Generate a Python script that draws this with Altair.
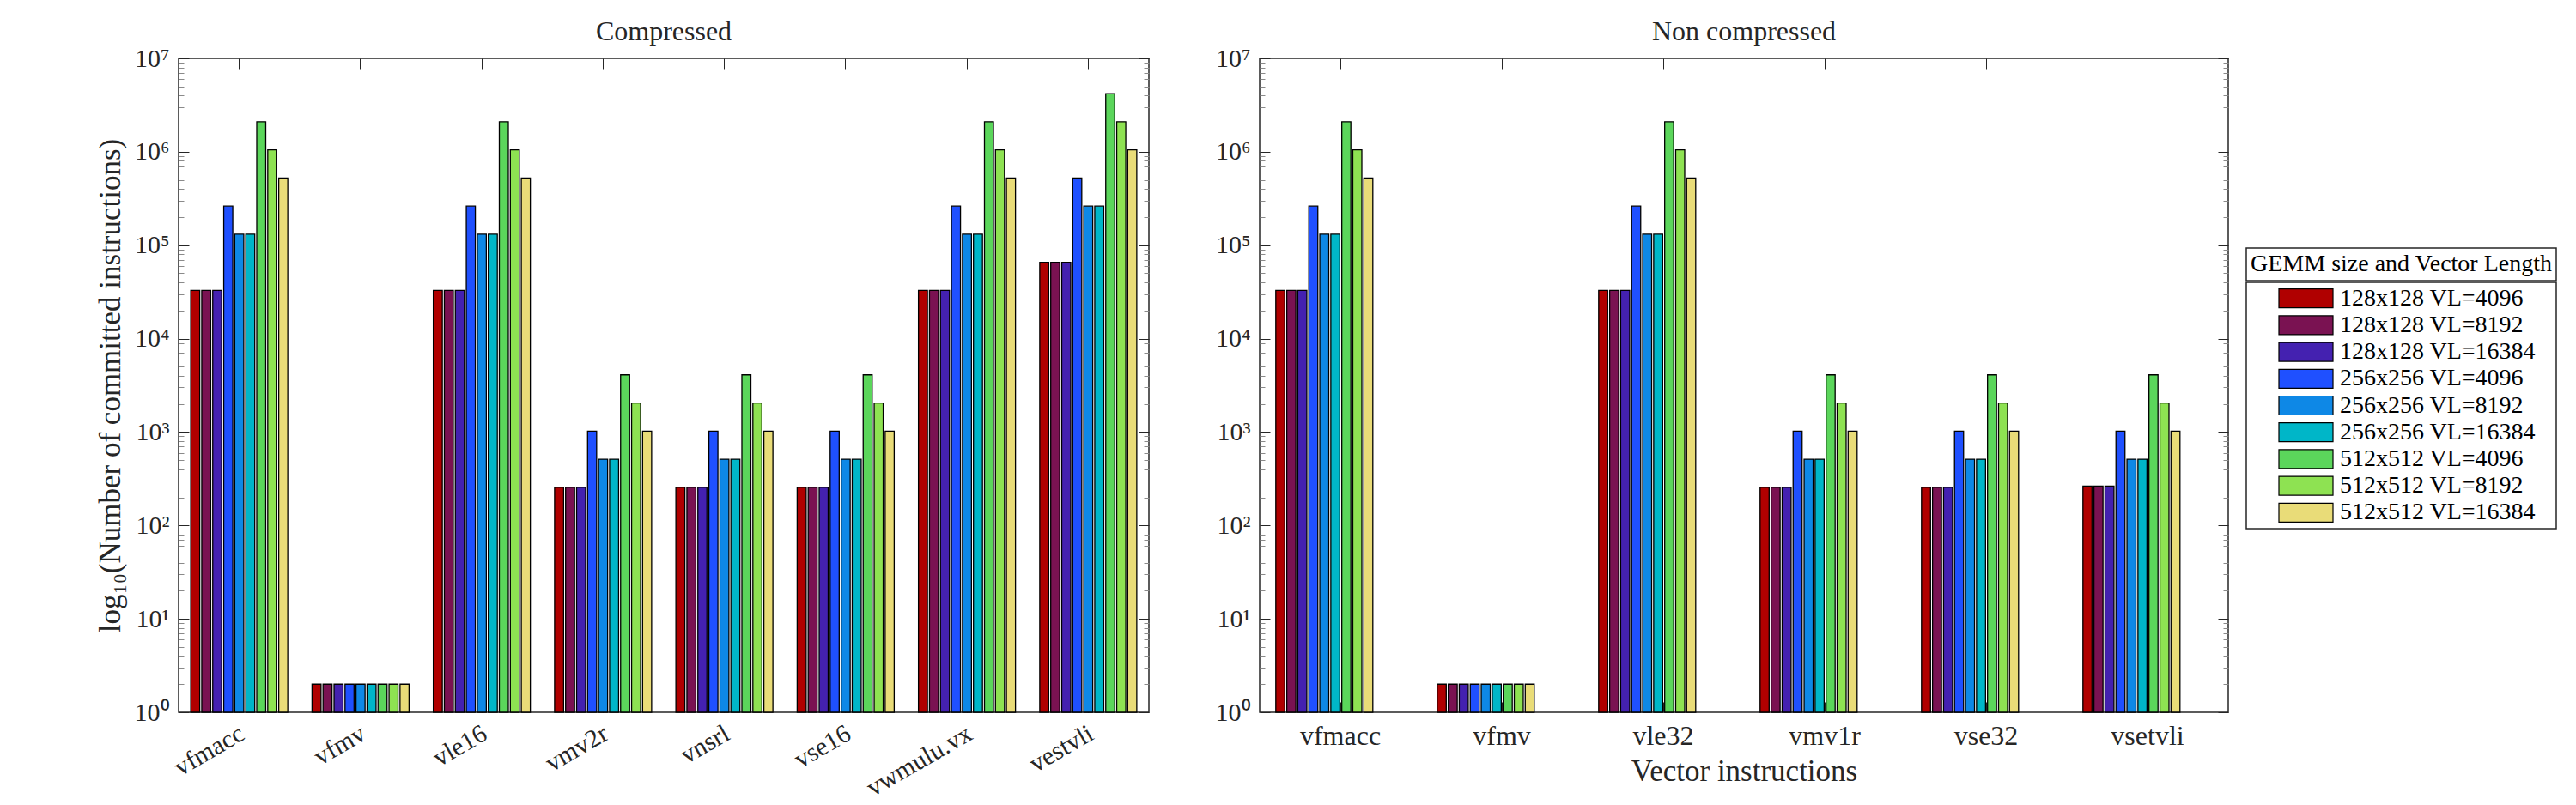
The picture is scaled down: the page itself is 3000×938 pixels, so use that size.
import altair as alt
import pandas as pd

# ---------------- data ----------------
series = ["128x128 VL=4096", "128x128 VL=8192", "128x128 VL=16384",
          "256x256 VL=4096", "256x256 VL=8192", "256x256 VL=16384",
          "512x512 VL=4096", "512x512 VL=8192", "512x512 VL=16384"]
colors = ["#b00000", "#7a1252", "#4421b0", "#1f50ff", "#0e88e6",
          "#00b6c8", "#5bd65b", "#8ee252", "#e9dc78"]

comp_instr = ["vfmacc", "vfmv", "vle16", "vmv2r", "vnsrl", "vse16", "vwmulu.vx", "vestvli"]
comp_vfmacc = [32768, 32768, 32768, 262144, 131072, 131072, 2097152, 1048576, 524288]
comp_vfmv = [2, 2, 2, 2, 2, 2, 2, 2, 2]
comp_vle16 = [32768, 32768, 32768, 262144, 131072, 131072, 2097152, 1048576, 524288]
comp_vmv2r = [256, 256, 256, 1024, 512, 512, 4096, 2048, 1024]
comp_vnsrl = [256, 256, 256, 1024, 512, 512, 4096, 2048, 1024]
comp_vse16 = [256, 256, 256, 1024, 512, 512, 4096, 2048, 1024]
comp_vwmulu = [32768, 32768, 32768, 262144, 131072, 131072, 2097152, 1048576, 524288]
comp_vestvli = [65536, 65536, 65536, 524288, 262144, 262144, 4194304, 2097152, 1048576]

nc_instr = ["vfmacc", "vfmv", "vle32", "vmv1r", "vse32", "vsetvli"]
nc_vfmacc = [32768, 32768, 32768, 262144, 131072, 131072, 2097152, 1048576, 524288]
nc_vfmv = [2, 2, 2, 2, 2, 2, 2, 2, 2]
nc_vle32 = [32768, 32768, 32768, 262144, 131072, 131072, 2097152, 1048576, 524288]
nc_vmv1r = [256, 256, 256, 1024, 512, 512, 4096, 2048, 1024]
nc_vse32 = [256, 256, 256, 1024, 512, 512, 4096, 2048, 1024]
nc_vsetvli = [264, 264, 264, 1024, 512, 512, 4096, 2048, 1024]

major_ticks = [1, 10, 100, 1000, 10000, 100000, 1000000, 10000000]
minor_ticks = [m * 10 ** k for k in range(7) for m in range(2, 10)]


def to_df(instr, rows):
    recs = []
    for name, vals in zip(instr, rows):
        for s, v in zip(series, vals):
            recs.append({"instr": name, "series": s, "value": v})
    return pd.DataFrame(recs)


comp_df = to_df(comp_instr, [comp_vfmacc, comp_vfmv, comp_vle16, comp_vmv2r,
                             comp_vnsrl, comp_vse16, comp_vwmulu, comp_vestvli])
nc_df = to_df(nc_instr, [nc_vfmacc, nc_vfmv, nc_vle32, nc_vmv1r, nc_vse32, nc_vsetvli])

FONT = "Liberation Serif"
TXT = "#262626"
MINOR = "#8a8a8a"
LABEL_EXPR = ("'10' + ['\u2070','\u00b9','\u00b2','\u00b3','\u2074','\u2075','\u2076','\u2077']"
              "[round(log(datum.value)/LN10)]")

color_scale = alt.Scale(domain=series, range=colors)


def panel(instr, df, title, angle, x_title, y_title, width, height):
    xscale = alt.Scale(domain=instr, paddingInner=0.2, paddingOuter=0.1)
    yscale = alt.Scale(type="log", domain=[1, 10000000], nice=False)
    xo = alt.XOffset("series:N", sort=series,
                     scale=alt.Scale(domain=series, paddingInner=0.18, paddingOuter=0))

    def layer(xaxis, yaxis, visible):
        enc = dict(
            x=alt.X("instr:N", sort=instr, scale=xscale, axis=xaxis),
            y=alt.Y("value:Q", scale=yscale, axis=yaxis),
            y2=alt.datum(1),
            xOffset=xo,
        )
        if visible:
            enc["color"] = alt.Color("series:N", scale=color_scale, legend=None)
            return alt.Chart(df).mark_bar(stroke="black", strokeWidth=1.3).encode(**enc)
        return alt.Chart(df).mark_bar(opacity=0).encode(**enc)

    common = dict(labelFont=FONT, titleFont=FONT, labelColor=TXT, titleColor=TXT,
                  titleFontWeight="normal", titleFontSize=35)
    if angle != 0:
        xlab = alt.Axis(orient="bottom", ticks=False, tickSize=0, domain=False, grid=False,
                        labelAngle=angle, labelAlign="right", labelBaseline="alphabetic",
                        labelPadding=30, labelOffset=8, title=None, labelFontSize=30, **common)
    else:
        xlab = alt.Axis(orient="bottom", ticks=False, tickSize=0, domain=False, grid=False,
                        labelAngle=0, labelAlign="center", labelBaseline="alphabetic",
                        labelPadding=37, title=x_title, titlePadding=8, labelFontSize=32,
                        **common)
    ylab = alt.Axis(orient="left", ticks=False, tickSize=0, domain=False, grid=False,
                    values=major_ticks, labelExpr=LABEL_EXPR, labelPadding=11,
                    title=y_title, titlePadding=10, labelFontSize=30, **common)

    def xt(orient):
        return alt.Axis(orient=orient, offset=-12, tickSize=12, labels=False, domain=False,
                        grid=False, title=None, tickColor=TXT, tickWidth=1)

    def yt(orient, vals, size, col):
        return alt.Axis(orient=orient, offset=-size, tickSize=size, values=vals, labels=False,
                        domain=False, grid=False, title=None, tickColor=col, tickWidth=1)

    layers = [
        layer(xlab, ylab, True),
        layer(xt("bottom"), yt("left", major_ticks, 12, TXT), False),
        layer(xt("top"), yt("right", major_ticks, 12, TXT), False),
        layer(None, yt("left", minor_ticks, 6, MINOR), False),
        layer(None, yt("right", minor_ticks, 6, MINOR), False),
    ]
    return alt.layer(*layers).resolve_axis(x="independent", y="independent").properties(
        width=width, height=height,
        view=alt.ViewBackground(stroke=TXT, strokeWidth=1.5),
        title=alt.Title(title, font=FONT, fontSize=32, fontWeight="normal", color=TXT,
                        offset=-26, baseline="alphabetic"),
    )


left = panel(comp_instr, comp_df, "Compressed", -30, None,
             "log\u2081\u2080(Number of committed instructions)", 1130, 762)
right = panel(nc_instr, nc_df, "Non compressed", 0, "Vector instructions", None, 1128, 762)

# ---------------- legend panel ----------------
leg_df = pd.DataFrame({"series": series})
leg_title = ["GEMM size and Vector Length"]
LEG_W = 361

spacer = alt.Chart(leg_df).mark_point(opacity=0).encode(
    x=alt.value(0), y=alt.value(0)
).properties(width=LEG_W, height=219, view=alt.ViewBackground(stroke="transparent"))

tbox = alt.Chart(pd.DataFrame({"t": leg_title})).mark_text(
    font=FONT, fontSize=28, color="black", baseline="middle", align="center"
).encode(x=alt.value(LEG_W / 2), y=alt.value(19), text="t:N").properties(
    width=LEG_W, height=38, view=alt.ViewBackground(stroke=TXT, strokeWidth=1.5))

ybs = alt.Scale(domain=series, paddingInner=0.295, paddingOuter=0.247)
sw = alt.Chart(leg_df).mark_rect(stroke="black", strokeWidth=1.2).encode(
    x=alt.value(38), x2=alt.value(101),
    y=alt.Y("series:N", sort=series, scale=ybs, axis=None),
    color=alt.Color("series:N", scale=color_scale, legend=None),
)
tx = alt.Chart(leg_df).mark_text(align="left", baseline="middle", font=FONT, fontSize=28,
                                 color="black").encode(
    x=alt.value(109),
    y=alt.Y("series:N", sort=series, scale=ybs, axis=None),
    text="series:N",
)
entries = alt.layer(sw, tx).properties(width=LEG_W, height=287,
                                       view=alt.ViewBackground(stroke=TXT, strokeWidth=1.5))
legend = alt.vconcat(spacer, tbox, entries, spacing=0)

chart = alt.hconcat(
    alt.hconcat(left, right, spacing=74), legend, spacing=15
).properties(
    padding={"left": 102, "top": 12, "right": 5, "bottom": 0},
    background="white",
).configure_view(
    stroke=TXT, strokeWidth=1.5
).configure_axis(
    labelFont=FONT, titleFont=FONT, labelColor=TXT, titleColor=TXT,
    titleFontWeight="normal", labelFontSize=30, titleFontSize=35, grid=False,
)

chart.save("out.html", embed_options={"renderer": "svg", "actions": False})
